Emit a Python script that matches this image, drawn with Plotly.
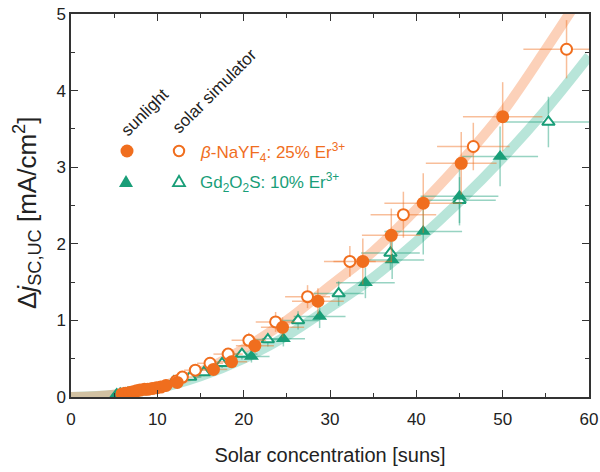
import plotly.graph_objects as go

# ---------------- data ----------------
# beta-NaYF4: 25% Er3+, sunlight (filled circles)
nay_sun_x = [5.9, 6.3, 6.8, 7.2, 7.6, 8.0, 8.5, 8.9, 9.4, 9.9, 10.4, 11.0, 12.3, 16.5, 18.6, 21.3, 24.5, 28.6, 33.8, 37.1, 40.8, 45.2, 50.0]
nay_sun_y = [0.04, 0.05, 0.06, 0.07, 0.08, 0.09, 0.10, 0.10, 0.11, 0.12, 0.13, 0.15, 0.19, 0.36, 0.46, 0.67, 0.91, 1.25, 1.77, 2.11, 2.53, 3.05, 3.66]
nay_sun_xerr = [0.5, 0.5, 0.6, 0.6, 0.6, 0.7, 0.7, 0.7, 0.8, 0.8, 0.9, 0.9, 1.0, 1.6, 1.8, 2.2, 2.5, 3.0, 3.4, 3.4, 4.5, 4.1, 4.6]
nay_sun_yerr = [0.02, 0.02, 0.02, 0.02, 0.02, 0.02, 0.02, 0.02, 0.03, 0.03, 0.03, 0.03, 0.04, 0.06, 0.08, 0.10, 0.13, 0.17, 0.30, 0.35, 0.39, 0.41, 0.45]

# beta-NaYF4: 25% Er3+, solar simulator (open circles)
nay_sim_x = [12.2, 12.9, 14.4, 16.1, 18.2, 20.6, 23.7, 27.4, 32.3, 38.5, 46.6, 57.4]
nay_sim_y = [0.21, 0.26, 0.35, 0.44, 0.56, 0.74, 0.98, 1.31, 1.77, 2.38, 3.27, 4.54]
nay_sim_xerr = [1.1, 1.2, 1.3, 1.5, 1.7, 2.0, 2.3, 2.6, 3.0, 3.8, 4.2, 5.0]
nay_sim_yerr = [0.03, 0.04, 0.05, 0.06, 0.08, 0.10, 0.13, 0.15, 0.20, 0.30, 0.31, 0.38]

# Gd2O2S: 10% Er3+, sunlight (filled triangles)
gd_sun_x = [5.3, 5.7, 6.1, 6.6, 7.0, 7.5, 8.0, 8.5, 9.0, 9.6, 10.2, 20.9, 24.6, 28.8, 34.1, 37.2, 40.8, 45.0, 49.7]
gd_sun_y = [0.04, 0.05, 0.05, 0.06, 0.06, 0.07, 0.08, 0.08, 0.09, 0.10, 0.11, 0.53, 0.76, 1.05, 1.49, 1.79, 2.16, 2.62, 3.14]
gd_sun_xerr = [0.5, 0.5, 0.5, 0.6, 0.6, 0.6, 0.7, 0.7, 0.8, 0.8, 0.9, 2.1, 2.5, 3.0, 3.4, 3.7, 4.5, 4.5, 4.4]
gd_sun_yerr = [0.02, 0.02, 0.02, 0.02, 0.02, 0.02, 0.02, 0.02, 0.03, 0.03, 0.03, 0.08, 0.10, 0.15, 0.20, 0.25, 0.30, 0.38, 0.39]

# Gd2O2S: 10% Er3+, solar simulator (open triangles)
gd_sim_x = [11.9, 13.8, 15.4, 17.5, 19.8, 22.8, 26.3, 31.0, 37.0, 45.0, 55.3]
gd_sim_y = [0.20, 0.26, 0.32, 0.44, 0.56, 0.75, 1.00, 1.35, 1.88, 2.57, 3.59]
gd_sim_xerr = [1.1, 1.3, 1.4, 1.6, 1.8, 2.1, 2.4, 2.9, 3.4, 4.2, 5.5]
gd_sim_yerr = [0.03, 0.04, 0.05, 0.06, 0.07, 0.09, 0.12, 0.16, 0.22, 0.30, 0.33]

# fit curves
fit_x = [0, 5, 10, 15, 20, 25, 30, 35, 40, 45, 50, 55, 60]
nay_fit_y = [0, 0.03, 0.13, 0.33, 0.63, 1.00, 1.45, 1.90, 2.45, 3.05, 3.72, 4.54, 5.40]
gd_fit_y = [0, 0.03, 0.11, 0.27, 0.50, 0.80, 1.17, 1.56, 2.03, 2.55, 3.12, 3.75, 4.45]

x_ticks = [0, 10, 20, 30, 40, 50, 60]
y_ticks = [0, 1, 2, 3, 4, 5]

# ---------------- styles ----------------
ORANGE = "rgb(240,110,30)"
GREEN = "rgb(25,158,120)"
ORANGE_ERR = "rgba(240,110,30,0.45)"
GREEN_ERR = "rgba(25,158,120,0.45)"
FONT = "Liberation Sans, Arial, sans-serif"

W, H = 600, 472
ML, MR, MT, MB = 71, 11, 14, 75
PW, PH = W - ML - MR, H - MT - MB

fig = go.Figure()

fig.add_trace(go.Scatter(x=fit_x, y=gd_fit_y, mode="lines", line=dict(color="rgba(40,175,140,0.33)", width=10, shape="spline"), hoverinfo="skip"))
fig.add_trace(go.Scatter(x=fit_x, y=nay_fit_y, mode="lines", line=dict(color="rgba(248,140,80,0.40)", width=10, shape="spline"), hoverinfo="skip"))


def pts(x, y, xe, ye, col, ecol, symbol, filled):
    return go.Scatter(
        x=x, y=y, mode="markers",
        error_x=dict(type="data", array=xe, symmetric=True, color=ecol, thickness=1.5, width=0),
        error_y=dict(type="data", array=ye, symmetric=True, color=ecol, thickness=1.5, width=0),
        marker=dict(symbol=symbol, size=13 if filled else 11,
                    color=col if filled else "white",
                    line=dict(color=col, width=0 if filled else 2)),
        cliponaxis=True,
    )


fig.add_trace(pts(gd_sim_x, gd_sim_y, gd_sim_xerr, gd_sim_yerr, GREEN, GREEN_ERR, "triangle-up", False))
fig.add_trace(pts(gd_sun_x, gd_sun_y, gd_sun_xerr, gd_sun_yerr, GREEN, GREEN_ERR, "triangle-up", True))
fig.add_trace(pts(nay_sim_x, nay_sim_y, nay_sim_xerr, nay_sim_yerr, ORANGE, ORANGE_ERR, "circle", False))
fig.add_trace(pts(nay_sun_x, nay_sun_y, nay_sun_xerr, nay_sun_yerr, ORANGE, ORANGE_ERR, "circle", True))

axis_common = dict(
    showline=True, linecolor="#333", linewidth=1.5, mirror="ticks",
    ticks="inside", ticklen=7, tickwidth=1.3, tickcolor="#333",
    showgrid=False, zeroline=False, automargin=False,
    tickfont=dict(family=FONT, size=17, color="#222"),
)

fig.update_xaxes(
    range=[0, 60], tickvals=x_ticks, ticktext=[str(v) for v in x_ticks],
    ticklabelstandoff=6,
    minor=dict(ticks="inside", ticklen=4, tickwidth=1.2, tickcolor="#333", dtick=5, showgrid=False),
    title=dict(text="Solar concentration [suns]", font=dict(family=FONT, size=20, color="#222"), standoff=20),
    **axis_common,
)
fig.update_yaxes(
    range=[0, 5], tickvals=y_ticks, ticktext=[str(v) for v in y_ticks],
    minor=dict(ticks="inside", ticklen=4, tickwidth=1.2, tickcolor="#333", dtick=0.5, showgrid=False),
    **axis_common,
)


def px2paper(px, py):
    return (px - ML) / PW, (H - MB - py) / PH


# legend and y title built from annotations and shapes (paper coordinates)
def lab(px, py, text, size, color, angle=0, xanchor="center"):
    x, y = px2paper(px, py)
    return dict(x=x, y=y, text=text, textangle=angle, xanchor=xanchor, yanchor="middle",
                xref="paper", yref="paper", showarrow=False,
                font=dict(family=FONT, size=size, color=color))


ann = [
    lab(27, 213, "Δ<i>j</i><sub>SC,UC</sub> [mA/cm<sup>2</sup>]", 26, "#222", -90),
    lab(145, 113, "sunlight", 17, "#222", -45),
    lab(214, 91, "solar simulator", 17, "#222", -45),
    lab(198, 152, "<i>β</i>-NaYF<sub>4</sub>: 25% Er<sup>3+</sup>", 17, ORANGE, xanchor="left"),
    lab(198, 182, "Gd<sub>2</sub>O<sub>2</sub>S: 10% Er<sup>3+</sup>", 17, GREEN, xanchor="left"),
]

shapes = []


def circ(cx, cy, r, filled, color):
    x0, y0 = px2paper(cx - r, cy + r)
    x1, y1 = px2paper(cx + r, cy - r)
    return dict(type="circle", xref="paper", yref="paper", x0=x0, y0=y0, x1=x1, y1=y1,
                fillcolor=color if filled else "white",
                line=dict(color=color, width=0 if filled else 2))


def tri(cx, cy, s, filled, color):
    h = s * 0.87
    pa = px2paper(cx - s / 2, cy + h / 2)
    pb = px2paper(cx + s / 2, cy + h / 2)
    pc = px2paper(cx, cy - h / 2)
    path = f"M {pa[0]} {pa[1]} L {pb[0]} {pb[1]} L {pc[0]} {pc[1]} Z"
    return dict(type="path", xref="paper", yref="paper", path=path,
                fillcolor=color if filled else "white",
                line=dict(color=color, width=0 if filled else 1.8))


shapes += [
    circ(127, 151, 6.5, True, ORANGE),
    circ(179, 151, 5.2, False, ORANGE),
    tri(126, 181, 14, True, GREEN),
    tri(179, 181, 12, False, GREEN),
]

fig.update_layout(annotations=ann, shapes=shapes)

fig.update_layout(
    width=W, height=H,
    margin=dict(l=ML, r=MR, t=MT, b=MB, autoexpand=False),
    plot_bgcolor="white", paper_bgcolor="white",
    showlegend=False,
)

fig.write_html("out.html", config={"displayModeBar": False},
               post_script="document.body.style.margin='0px';document.body.style.padding='0px';")
